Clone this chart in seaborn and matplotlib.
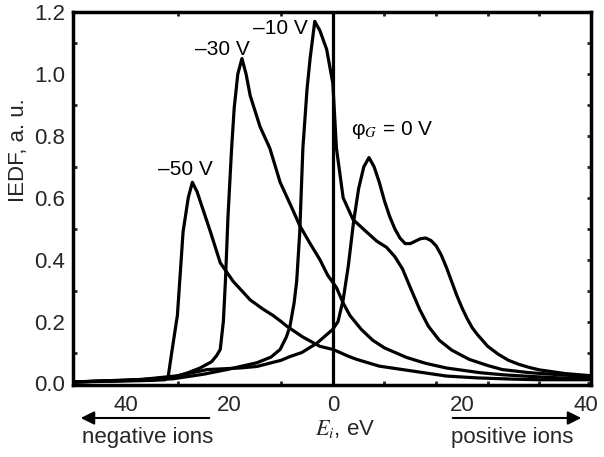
"""
IEDF curves for several grid potentials, redrawn with seaborn.
"""

import matplotlib

matplotlib.use("Agg")
import matplotlib.pyplot as plt  # noqa: E402
import numpy as np  # noqa: E402
import pandas as pd  # noqa: E402
import seaborn as sns  # noqa: E402

# curves (E in eV, IEDF in a.u.)
m50_x = [-50, -40, -35, -32.5, -31.9, -31.2, -30.1, -29, -28, -27.2, -26.3, -25.3,
         -23.7, -21.8, -19.3, -16, -13.5, -11.6, -10, -8.9, -5.8, -2.5, 0, 1.4, 3,
         4.6, 9, 15.5, 22, 28, 35, 40, 50]
m50_y = [0.005, 0.008, 0.01, 0.012, 0.02, 0.1, 0.22, 0.49, 0.6, 0.65, 0.62, 0.57,
         0.49, 0.39, 0.33, 0.27, 0.24, 0.22, 0.2, 0.185, 0.15, 0.12, 0.11, 0.10, 0.088,
         0.078, 0.056, 0.04, 0.024, 0.018, 0.014, 0.012, 0.012]

m30_x = [-50, -40, -35, -30.9, -28, -25.7, -23.5, -22.5, -21.8, -21.2, -20.8, -20.3,
         -19.6, -19.1, -18.4, -17.6, -16.8, -16, -14.1, -12.2, -10.2, -8, -6.4, -4.5,
         -2.5, -1, 0.7, 2, 3.3, 5.5, 7.7, 10, 14.3, 18, 22, 28.4, 33, 38, 44, 50]
m30_y = [0.005, 0.01, 0.015, 0.02, 0.035, 0.05, 0.07, 0.09, 0.11, 0.2, 0.33, 0.54,
         0.76, 0.89, 1.0, 1.05, 1.0, 0.93, 0.83, 0.76, 0.65, 0.57, 0.51, 0.455,
         0.40, 0.35, 0.31, 0.26, 0.22, 0.175, 0.14, 0.115, 0.084, 0.065, 0.05, 0.035,
         0.028, 0.023, 0.018, 0.015]

m10_x = [-50, -40, -31, -25, -20.5, -14.7, -12, -10.2, -9, -8.3, -7.5, -7, -6.4,
         -5.8, -5, -4.4, -3.5, -2.5, -1.2, 0, 0.7, 2, 3.9, 6.5, 8.5, 10.4, 12, 13.5,
         15, 16.8, 18.5, 20.6, 23, 26.4, 30, 32.8, 38, 44, 50]
m10_y = [0.005, 0.01, 0.015, 0.03, 0.045, 0.067, 0.085, 0.11, 0.15, 0.185, 0.26, 0.33,
         0.49, 0.76, 0.95, 1.05, 1.17, 1.14, 1.08, 0.97, 0.76, 0.60, 0.53, 0.49, 0.46,
         0.44, 0.41, 0.37, 0.31, 0.24, 0.185, 0.14, 0.108, 0.078, 0.058, 0.045, 0.035,
         0.028, 0.022]

g0_x = [-50, -37, -30, -24.3, -18, -14.7, -10, -8.3, -6, -3.1, 0, 1, 2, 3, 4, 5, 6,
        7, 8, 9, 10, 11, 12, 13, 14, 15, 16, 17, 18, 19, 20, 21, 22, 23, 24, 25, 26,
        27, 28, 30, 32, 34, 36, 38, 40, 45, 50]
g0_y = [0.005, 0.013, 0.025, 0.045, 0.05, 0.055, 0.075, 0.087, 0.1, 0.13, 0.175,
        0.2, 0.27, 0.38, 0.52, 0.63, 0.70, 0.73, 0.70, 0.65, 0.59, 0.54, 0.50, 0.47,
        0.452, 0.452, 0.46, 0.468, 0.47, 0.462, 0.445, 0.415, 0.375, 0.33, 0.285,
        0.245, 0.21, 0.18, 0.158, 0.12, 0.095, 0.075, 0.062, 0.052, 0.044, 0.032,
        0.025]

curve_labels = ["\u201350 V", "\u201330 V", "\u201310 V", "\u03c6$_G$ = 0 V"]
label_pos = [(-28.6, 0.69), (-21.4, 1.08), (-10.2, 1.146), (11.4, 0.82)]

xtick_pos = [-40, -20, 0, 25, 49]
xtick_labels = ["40", "20", "0", "20", "40"]


def main():
    df = pd.concat([
        pd.DataFrame({"E": m50_x, "IEDF": m50_y, "curve": "m50"}),
        pd.DataFrame({"E": m30_x, "IEDF": m30_y, "curve": "m30"}),
        pd.DataFrame({"E": m10_x, "IEDF": m10_y, "curve": "m10"}),
        pd.DataFrame({"E": g0_x, "IEDF": g0_y, "curve": "g0"}),
    ], ignore_index=True)

    sns.set_theme(style="white")
    plt.rcParams["font.family"] = ["Liberation Sans", "DejaVu Sans"]
    plt.rcParams["mathtext.fontset"] = "stix"

    fig = plt.figure(figsize=(6.04, 4.57), dpi=100)
    ax = fig.add_axes([0.121, 0.1575, 0.8575, 0.816])

    sns.lineplot(data=df, x="E", y="IEDF", units="curve", estimator=None,
                 sort=False, color="black", lw=2.3, ax=ax)
    ax.axvline(0, color="black", lw=2.3)

    for text, (x, y) in zip(curve_labels, label_pos):
        ax.text(x, y, text, ha="center", va="center", fontsize=15, color="black")

    ax.set_xlim(-50.3, 50)
    ax.set_ylim(-0.005, 1.2)

    ax.set_xticks(xtick_pos, xtick_labels)
    ax.set_xticks(np.arange(-40, 50, 10), minor=True)
    ax.set_yticks(np.arange(0, 1.21, 0.2), [f"{v:.1f}" for v in np.arange(0, 1.21, 0.2)])
    ax.set_yticks(np.arange(0.1, 1.2, 0.2), minor=True)
    ax.tick_params(axis="x", which="major", length=0, pad=7, labelsize=16)
    ax.tick_params(axis="y", which="major", direction="in", length=3, width=2,
                   right=True, pad=6, labelsize=16)
    ax.tick_params(which="minor", direction="in", length=3, width=2,
                   top=True, bottom=True, left=True, right=True)
    for sp in ax.spines.values():
        sp.set_color("black")
        sp.set_linewidth(2.5)

    ax.set_xlabel("")
    ax.set_ylabel("IEDF, a. u.", fontsize=16, va="center")
    ax.yaxis.set_label_coords(-0.106, 0.63)

    fig.text(0.572, 1 - 429 / 457, "$E_i$, eV", ha="center", va="center", fontsize=16)
    fig.text(0.245, 1 - 438 / 457, "negative ions", ha="center", va="center", fontsize=16)
    fig.text(0.848, 1 - 438 / 457, "positive ions", ha="center", va="center", fontsize=16)

    arrow = dict(arrowstyle="-|>", color="black", lw=1.5, mutation_scale=20)
    ay = 1 - 418 / 457
    ax.annotate("", xy=(78 / 604, ay), xytext=(212 / 604, ay),
                xycoords="figure fraction", arrowprops=arrow)
    ax.annotate("", xy=(584 / 604, ay), xytext=(450 / 604, ay),
                xycoords="figure fraction", arrowprops=arrow)

    fig.savefig("out.png", dpi=100)
    plt.close(fig)


if __name__ == "__main__":
    main()
